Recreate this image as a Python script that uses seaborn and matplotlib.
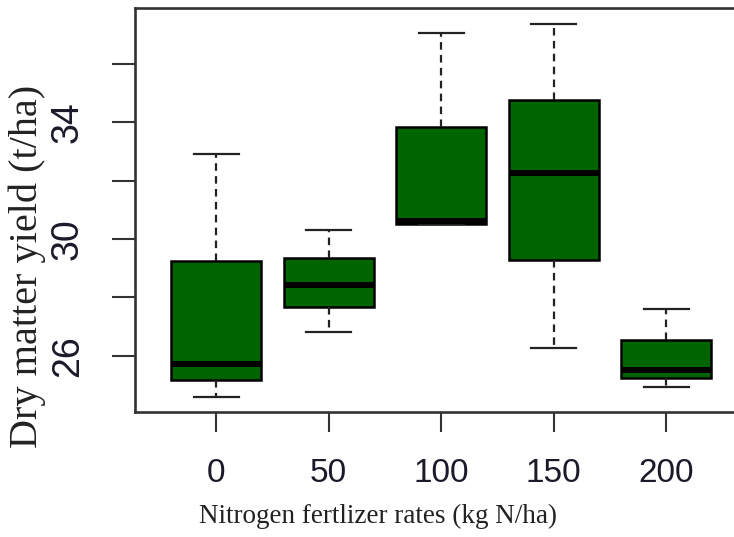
import matplotlib
matplotlib.use("Agg")
import matplotlib.pyplot as plt
import seaborn as sns
import pandas as pd

# nitrogen rates (x categories)
rates = ["0", "50", "100", "150", "200"]

# five numbers per rate: min, q1, median, q3, max  (t/ha)
yield_0 = [24.60, 25.17, 25.70, 29.25, 32.90]
yield_50 = [26.82, 27.68, 28.42, 29.36, 30.31]
yield_100 = [30.52, 30.52, 30.62, 33.85, 37.07]
yield_150 = [26.27, 29.28, 32.27, 34.77, 37.36]
yield_200 = [24.94, 25.25, 25.51, 26.54, 27.59]

ytick_vals = [26, 28, 30, 32, 34, 36]
ytick_labels = ["26", "", "30", "", "34", ""]

# long form table for seaborn
df = pd.DataFrame({
    "rate": sum([[r] * 5 for r in rates], []),
    "dm": yield_0 + yield_50 + yield_100 + yield_150 + yield_200,
})

fig = plt.figure(figsize=(7.34, 5.37), dpi=100)
ax = fig.add_axes([135 / 734, 1 - 412 / 537, 610 / 734, 404 / 537])

sns.boxplot(data=df, x="rate", y="dm", order=rates, ax=ax,
            color="#006400", saturation=1, width=0.8, whis=(0, 100),
            linecolor="black", linewidth=1.8, fliersize=0,
            medianprops={"linewidth": 4.3, "color": "black"},
            whiskerprops={"linestyle": (0, (3.4, 2.4)), "linewidth": 1.6, "color": "#222222"},
            capprops={"linewidth": 1.6, "color": "#222222"})

ax.set_xlim(-0.72, 4.70)
ax.set_ylim(24.07, 37.92)

ax.set_yticks(ytick_vals)
ax.set_yticklabels(ytick_labels, rotation=90, va="center",
                   fontsize=27, family="Liberation Sans", color="#1a1a2a")
ax.set_xticks(range(len(rates)))
ax.set_xticklabels(rates, fontsize=24, family="Liberation Sans", color="#1a1a2a")

ax.tick_params(axis="y", length=16.5, width=1.5, color="#333333", pad=19)
ax.tick_params(axis="x", length=14.4, width=1.5, color="#333333", pad=19)

for s in ax.spines.values():
    s.set_color("#333333")
    s.set_linewidth(1.9)

ax.set_xlabel("Nitrogen fertlizer rates (kg N/ha)", fontsize=19.5,
              family="Liberation Serif", color="#222222")
ax.xaxis.label.set_va("baseline")
ax.xaxis.set_label_coords(0.399, -0.275)

ax.set_ylabel("Dry matter yield (t/ha)", fontsize=29,
              family="Liberation Serif", color="#222222")
ax.yaxis.label.set_va("center")
ax.yaxis.set_label_coords(-0.176, 0.361)

fig.savefig("out.png", dpi=100)
